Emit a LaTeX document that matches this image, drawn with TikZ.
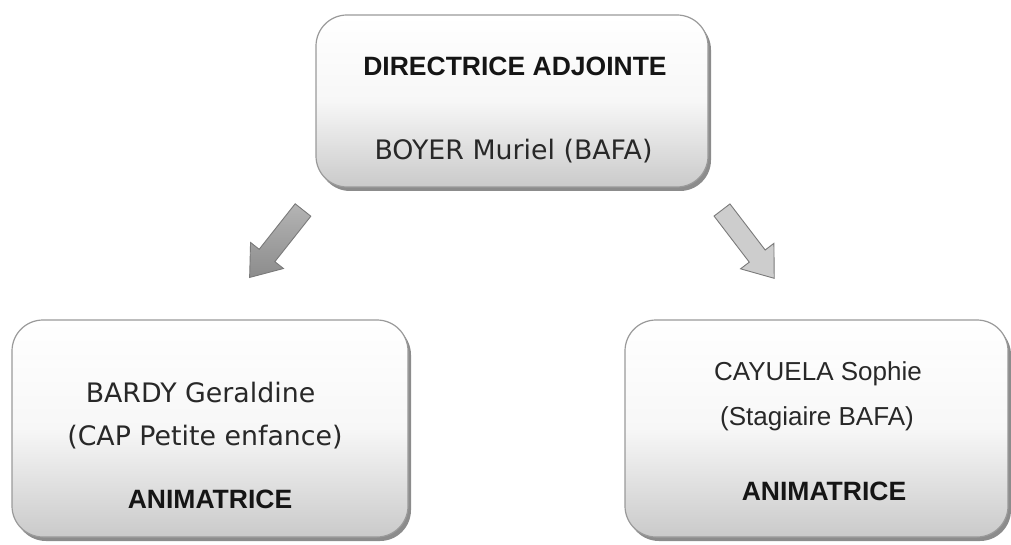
\documentclass[tikz,border=0pt]{standalone}
\usepackage{fontspec}
\setmainfont{Liberation Sans}
\newfontfamily\verd{DejaVu Sans}
\usetikzlibrary{shadows}
\definecolor{boxborder}{HTML}{9A9A9A}
\definecolor{boxbottom}{HTML}{CACACA}
\definecolor{txt}{HTML}{151515}
\definecolor{arrdark}{HTML}{8C8C8C}
\definecolor{arrlight}{HTML}{B4B4B4}
\definecolor{arrpale}{HTML}{CDCDCD}
\definecolor{arredge}{HTML}{7A7A7A}
\tikzset{
  orgbox/.style={draw=boxborder, line width=1.2pt, rounded corners=31pt,
    top color=white, bottom color=boxbottom, middle color=white!85!boxbottom,
    drop shadow={shadow xshift=3pt, shadow yshift=-4pt, fill=black, opacity=0.45}},
  boldtxt/.style={text=txt, font=\fontsize{26.5}{30}\selectfont\bfseries},
  verdtxt/.style={text=txt!92!white, font=\verd\fontsize{26.8}{30}\selectfont},
  arialtxt/.style={text=txt!92!white, font=\fontsize{26}{30}\selectfont},
  darkarrow/.style={draw=arredge, line width=0.9pt, top color=arrlight, bottom color=arrdark},
  palearrow/.style={draw=arredge, line width=0.9pt, fill=arrpale},
}
\begin{document}
\begin{tikzpicture}[x=1pt,y=-1pt]
\useasboundingbox (0,0) rectangle (1011,545);
% boxes
\node[orgbox, minimum width=392pt, minimum height=172pt] (top) at (512,101) {};
\node[orgbox, minimum width=396pt, minimum height=217pt] (left) at (210,428.5) {};
\node[orgbox, minimum width=383pt, minimum height=217pt] (right) at (816.5,428.5) {};
% texts
\node[boldtxt] (t1) at (515,66) {DIRECTRICE ADJOINTE};
\node[verdtxt] (t2) at (513.5,151) {BOYER Muriel (BAFA)};
\node[verdtxt] (l1) at (200.5,393) {BARDY Geraldine};
\node[verdtxt] (l2) at (205,437) {(CAP Petite enfance)};
\node[boldtxt] (l3) at (210,499) {ANIMATRICE};
\node[arialtxt] (r1) at (818,374) {CAYUELA Sophie};
\node[arialtxt] (r2) at (817,419) {(Stagiaire BAFA)};
\node[boldtxt] (r3) at (824,491) {ANIMATRICE};
% block arrows
\coordinate (la) at (303,210);
\coordinate (ra) at (722,210);
\begin{scope}[shift={(la)}, rotate=-128.35]
  \draw[darkarrow] (0,-10) -- (58,-10) -- (58,-21) -- (86,0) -- (58,21) -- (58,10) -- (0,10) -- cycle;
\end{scope}
\begin{scope}[shift={(ra)}, rotate=-52.6]
  \draw[palearrow] (0,-10) -- (58,-10) -- (58,-21) -- (86,0) -- (58,21) -- (58,10) -- (0,10) -- cycle;
\end{scope}
\end{tikzpicture}
\end{document}
